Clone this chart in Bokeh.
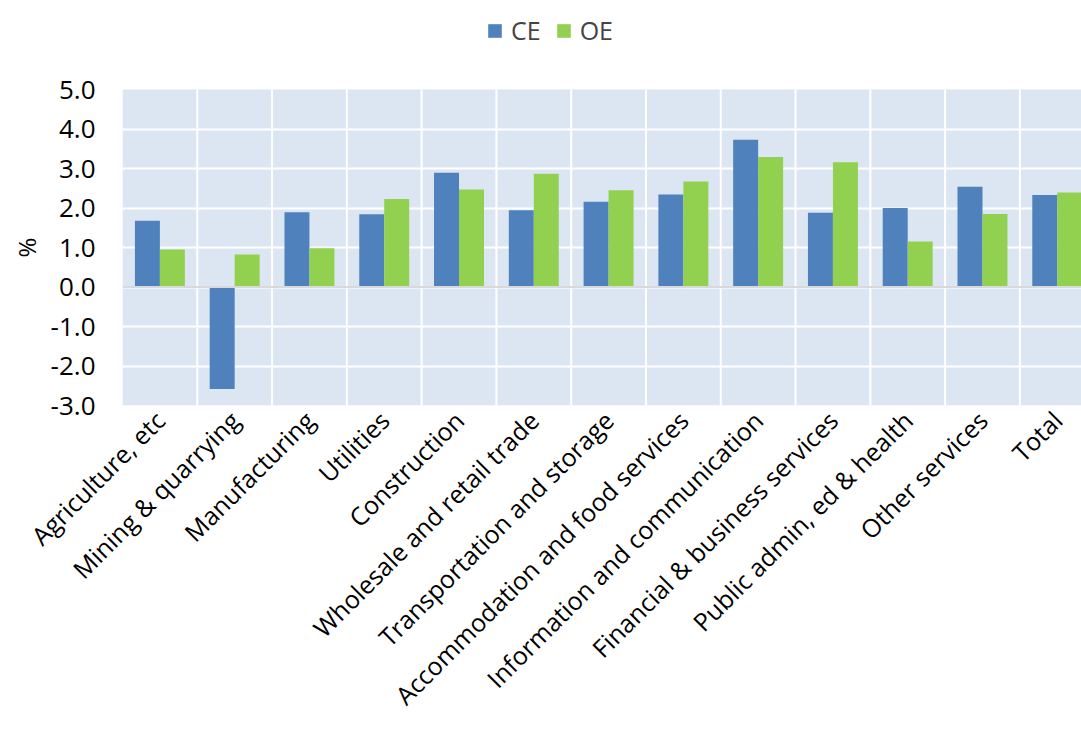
from math import pi

from bokeh.embed import file_html
from bokeh.models import (BoxAnnotation, ColumnDataSource, FixedTicker, Legend,
                          LegendItem, NumeralTickFormatter, Range1d, Span, Title)
from bokeh.plotting import figure
from bokeh.resources import INLINE

# Employment growth by industry, %
industries = [
    "Agriculture, etc",
    "Mining & quarrying",
    "Manufacturing",
    "Utilities",
    "Construction",
    "Wholesale and retail trade",
    "Transportation and storage",
    "Accommodation and food services",
    "Information and communication",
    "Financial & business services",
    "Public admin, ed & health",
    "Other services",
    "Total",
]
ce_values = [1.68, -2.58, 1.89, 1.84, 2.89, 1.94, 2.16, 2.34, 3.73, 1.88, 2.00, 2.54, 2.33]
oe_values = [0.95, 0.82, 0.98, 2.23, 2.47, 2.87, 2.45, 2.67, 3.29, 3.16, 1.15, 1.85, 2.39]
y_ticks = [-3, -2, -1, 0, 1, 2, 3, 4, 5]

FONT = "Open Sans"
CE_COLOR = "#4F81BD"
OE_COLOR = "#92D050"
BG = "#DCE6F2"

n = len(industries)
centers = [i + 0.5 for i in range(n)]
bar_w = 0.334
y_lo, y_hi = y_ticks[0], y_ticks[-1]

# plot box: 316 px for the value axis, 89 px of headroom above it for the legend
axis_px, head_px = 316, 89
y_top = y_hi + (y_hi - y_lo) * head_px / axis_px

source = ColumnDataSource(dict(
    x_ce=[c - bar_w / 2 for c in centers],
    x_oe=[c + bar_w / 2 for c in centers],
    ce=ce_values,
    oe=oe_values,
))

p = figure(
    width=1081, height=731,
    x_range=Range1d(0, 12.824), y_range=Range1d(y_lo, y_top),
    output_backend="svg", toolbar_location=None,
    min_border_left=122, min_border_right=0, min_border_top=0, min_border_bottom=326,
    background_fill_color="white", border_fill_color="white",
)
p.outline_line_color = None

# shaded plot area between the value limits
p.add_layout(BoxAnnotation(bottom=y_lo, top=y_hi, fill_color=BG, fill_alpha=1,
                           line_color=None, level="image"))

# category separators
seps = list(range(1, n))
p.segment(x0=seps, y0=[y_lo] * len(seps), x1=seps, y1=[y_hi] * len(seps),
          line_color="white", line_width=2)

ce_r = p.vbar(x="x_ce", top="ce", bottom=0, width=bar_w, source=source,
              fill_color=CE_COLOR, line_color=None)
oe_r = p.vbar(x="x_oe", top="oe", bottom=0, width=bar_w, source=source,
              fill_color=OE_COLOR, line_color=None)

# zero line
p.add_layout(Span(location=0, dimension="width", line_color="#D9D9D9", line_width=2))

# horizontal grid inside the shaded area
p.xgrid.visible = False
p.ygrid.ticker = FixedTicker(ticks=y_ticks[1:-1])
p.ygrid.grid_line_color = "white"
p.ygrid.grid_line_width = 2

# x axis with rotated category labels
p.xaxis.ticker = FixedTicker(ticks=centers)
p.xaxis.major_label_overrides = {c: name for c, name in zip(centers, industries)}
p.xaxis.major_label_orientation = pi / 4
p.xaxis.major_label_text_font = FONT
p.xaxis.major_label_text_font_size = "25px"
p.xaxis.major_label_text_color = "black"
p.xaxis.major_label_standoff = 10
p.xaxis.axis_line_color = None
p.xaxis.major_tick_line_color = None
p.xaxis.minor_tick_line_color = None
p.xaxis.major_tick_out = 0
p.xaxis.major_tick_in = 0

# y axis
p.yaxis.ticker = FixedTicker(ticks=y_ticks)
p.yaxis.formatter = NumeralTickFormatter(format="0.0")
p.yaxis.major_label_text_font = FONT
p.yaxis.major_label_text_font_size = "26px"
p.yaxis.major_label_text_color = "black"
p.yaxis.major_label_standoff = 27
p.yaxis.axis_line_color = None
p.yaxis.major_tick_line_color = None
p.yaxis.minor_tick_line_color = None
p.yaxis.major_tick_out = 0
p.yaxis.major_tick_in = 0

# unit label, centred on the shaded value area
p.add_layout(Title(text="%", align="left", offset=148, text_font=FONT,
                   text_font_size="24px", text_font_style="normal",
                   text_color="black", standoff=10), "left")

legend = Legend(
    items=[LegendItem(label="CE", renderers=[ce_r]),
           LegendItem(label="OE", renderers=[oe_r])],
    orientation="horizontal",
    location=(364, 358),
    glyph_width=17, glyph_height=17,
    label_text_font=FONT, label_text_font_size="25px",
    label_standoff=8, spacing=14, padding=0, margin=0,
    border_line_color=None, background_fill_alpha=0,
)
p.add_layout(legend, "center")

open("out.html", "w").write(file_html(p, INLINE))
